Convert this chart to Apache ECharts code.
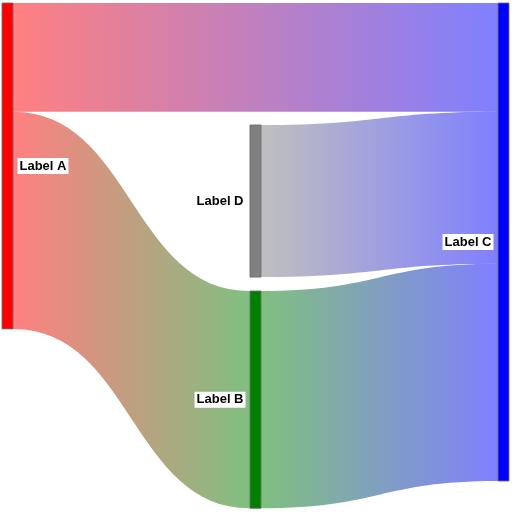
<!DOCTYPE html>
<html>
<head>
<meta charset="utf-8">
<script src="https://cdn.jsdelivr.net/npm/echarts@6/dist/echarts.min.js"></script>
<style>
html,body{margin:0;padding:0;background:#fff;}
#chart{width:512px;height:512px;}
</style>
</head>
<body>
<div id="chart"></div>
<script>
// ---- data ----
const nodeNames = ['Label A', 'Label D', 'Label B', 'Label C'];
const linkSources = ['Label A', 'Label A', 'Label D', 'Label B'];
const linkTargets = ['Label C', 'Label B', 'Label C', 'Label C'];
const linkValues = [5, 10, 7, 10];

// ---- styles / layout (kept separate from data) ----
const nodeColors = ['#ff0000', '#808080', '#008000', '#0000ff'];
const nodeLabelPos = ['right', 'left', 'left', 'left'];
const nodeLocalX = [0, 0.48915, 0.48915, 0.97830];
const nodeLocalY = [0, 0.2552, 0.6025, 0];

const nodes = nodeNames.map((n, i) => ({
  name: n,
  localX: nodeLocalX[i],
  localY: nodeLocalY[i],
  itemStyle: { color: nodeColors[i], borderColor: 'rgba(110,110,110,0.9)', borderWidth: 1 },
  label: { position: nodeLabelPos[i] }
}));
const links = linkValues.map((v, i) => ({
  source: linkSources[i], target: linkTargets[i], value: v
}));

const chart = echarts.init(document.getElementById('chart'), null, { renderer: 'canvas' });
chart.setOption({
  animation: false,
  backgroundColor: '#ffffff',
  series: [{
    type: 'sankey',
    left: 2,
    top: 3,
    width: 507,
    height: 478,
    nodeWidth: 11,
    nodeGap: 14,
    nodeAlign: 'right',
    layoutIterations: 0,
    draggable: false,
    emphasis: { disabled: true },
    data: nodes,
    links: links,
    label: {
      show: true,
      color: '#000',
      fontFamily: 'Liberation Sans, Arial, sans-serif',
      fontWeight: 'bold',
      fontSize: 13,
      backgroundColor: '#ffffff',
      padding: [2, 2, 1, 2],
      distance: 4
    },
    lineStyle: {
      color: 'gradient',
      opacity: 0.5,
      curveness: 0.5
    }
  }]
});
</script>
</body>
</html>
